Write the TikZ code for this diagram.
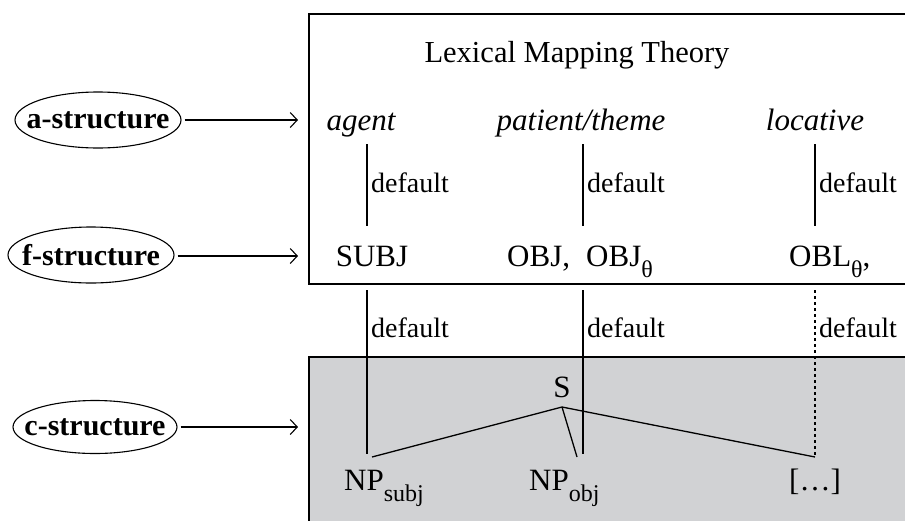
\documentclass[tikz,border=0pt]{standalone}
\usepackage{fontspec}
\setmainfont{Liberation Serif}
\usetikzlibrary{shapes.geometric,arrows.meta}
\definecolor{boxgrey}{RGB}{209,210,212}
\newcommand\lowsub[1]{\raisebox{-0.38em}{\fontsize{24pt}{24pt}\selectfont #1}}
\begin{document}
\begin{tikzpicture}[x=1pt,y=-1pt,
  txt/.style={font=\fontsize{31pt}{31pt}\selectfont, inner sep=0pt, anchor=base},
  itx/.style={txt, font=\fontsize{31pt}{31pt}\selectfont\itshape},
  lbl/.style={font=\fontsize{28pt}{28pt}\selectfont, inner sep=0pt, anchor=base west},
  lvl/.style={draw, ellipse, line width=1.1pt, minimum width=166pt, minimum height=56pt, inner sep=0pt, font=\fontsize{30pt}{30pt}\selectfont\bfseries},
  lvlarrow/.style={line width=1.1pt, shorten <=3pt, -{Straight Barb[length=7pt,width=15pt,line width=1.1pt]}},
  frame/.style={line width=1.4pt},
  link/.style={line width=1.2pt},
  dotlink/.style={line width=1.2pt, dash pattern=on 2.5pt off 3.5pt},
  branch/.style={line width=1.3pt}]
\useasboundingbox (0,0) rectangle (905,520);
\clip (0,0) rectangle (905,520);
% boxes
\fill[boxgrey] (309,357) rectangle (912,525);
\draw[frame] (912,357) -- (309,357) -- (309,525);
\draw[frame] (912,14) -- (309,14) -- (309,284) -- (912,284);
% left level labels
\node[lvl] (astr) at (98,120) {\makebox[0pt]{a-structure}};
\node[lvl] (fstr) at (91,255) {\makebox[0pt]{f-structure}};
\node[lvl, minimum width=164pt, minimum height=53pt] (cstr) at (95,427) {\makebox[0pt]{c-structure}};
\coordinate (aend) at (298,120);
\coordinate (fend) at (298,256);
\coordinate (cend) at (298,427);
\draw[lvlarrow] (astr.east) -- (aend);
\draw[lvlarrow] (fstr.east |- fend) -- (fend);
\draw[lvlarrow] (cstr.east) -- (cend);
% top box
\node[txt, font=\fontsize{30.5pt}{30.5pt}\selectfont] (lmt) at (577,62) {Lexical Mapping Theory};
\node[itx] (agent) at (361,130) {agent};
\node[itx] (pat) at (581,130) {patient/theme};
\node[itx] (loc) at (815,130) {locative};
\coordinate (a1) at (367,144); \coordinate (a2) at (367,226);
\coordinate (p1) at (583,144); \coordinate (p2) at (583,226);
\coordinate (l1) at (815,144); \coordinate (l2) at (815,226);
\draw[link] (a1) -- (a2);
\draw[link] (p1) -- (p2);
\draw[link] (l1) -- (l2);
\node[lbl] (d1) at (371,192) {default};
\node[lbl] (d2) at (587,192) {default};
\node[lbl] (d3) at (819,192) {default};
\node[txt] (subj) at (372,266) {SUBJ};
\node[txt, anchor=base west] (obj) at (507,266) {OBJ,};
\node[txt, anchor=base west] (objt) at (586,266) {OBJ\lowsub{θ}};
\node[txt, anchor=base west] (obl) at (789,266) {OBL\lowsub{θ},};
% links between boxes
\coordinate (b1) at (367,290); \coordinate (b2) at (367,454);
\coordinate (q1) at (583,290); \coordinate (q2) at (583,454);
\coordinate (m1) at (815,290); \coordinate (m2) at (815,455);
\draw[link] (b1) -- (b2);
\draw[link] (q1) -- (q2);
\draw[dotlink] (m1) -- (m2);
\node[lbl] (d4) at (371,337) {default};
\node[lbl] (d5) at (587,337) {default};
\node[lbl] (d6) at (819,337) {default};
% tree
\node[txt] (S) at (562,397) {S};
\coordinate (apex) at (562,407);
\coordinate (e1) at (372,457);
\coordinate (e2) at (577,457);
\coordinate (e3) at (815,457);
\draw[branch] (e1) -- (apex) -- (e3);
\draw[branch] (apex) -- (e2);
\node[txt, anchor=base west] (npsubj) at (344,490) {NP\lowsub{subj}};
\node[txt, anchor=base west] (npobj) at (529,490) {NP\lowsub{obj}};
\node[txt] (rest) at (815,490) {[\ldots]};
\end{tikzpicture}
\end{document}
